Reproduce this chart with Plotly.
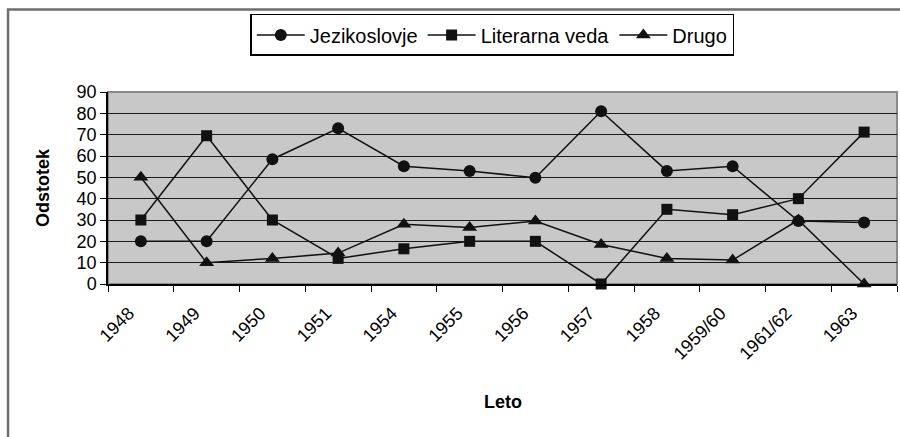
import plotly.graph_objects as go

categories = ["1948", "1949", "1950", "1951", "1954", "1955", "1956", "1957",
              "1958", "1959/60", "1961/62", "1963"]
jezikoslovje = [20, 20, 58.5, 73, 55.2, 53, 49.8, 81, 53, 55.2, 29.5, 28.8]
literarna_veda = [30, 69.5, 30, 12, 16.5, 20, 20, 0, 35, 32.5, 40, 71.2]
drugo = [50, 10, 12, 14.5, 28, 26.5, 29.5, 18.5, 12, 11.2, 30, 0]
y_ticks = [0, 10, 20, 30, 40, 50, 60, 70, 80, 90]

FONT = "Liberation Sans, Arial, sans-serif"
LINE = dict(color="#111111", width=1.5)

fig = go.Figure()
fig.add_trace(go.Scatter(x=categories, y=jezikoslovje, name="Jezikoslovje",
                         mode="lines+markers", line=LINE, cliponaxis=False,
                         marker=dict(symbol="circle", size=12, color="#111111")))
fig.add_trace(go.Scatter(x=categories, y=literarna_veda, name="Literarna veda",
                         mode="lines+markers", line=LINE, cliponaxis=False,
                         marker=dict(symbol="square", size=11, color="#111111")))
fig.add_trace(go.Scatter(x=categories, y=drugo, name="Drugo",
                         mode="lines+markers", line=LINE, cliponaxis=False,
                         marker=dict(symbol="triangle-up", size=13, color="#111111")))

fig.update_layout(
    width=900, height=437,
    margin=dict(l=108, r=3, t=92, b=153),
    paper_bgcolor="white",
    plot_bgcolor="#c8c8c8",
    font=dict(family=FONT, color="black", size=18),
    showlegend=True,
    legend=dict(orientation="h", xref="container", yref="container",
                x=0.547, xanchor="center", y=0.968, yanchor="top",
                bordercolor="black", borderwidth=1.5, bgcolor="white",
                font=dict(size=20, family=FONT), itemwidth=48,
                tracegroupgap=0),
    xaxis=dict(type="category", categoryorder="array", categoryarray=categories,
               range=[-0.5, len(categories) - 0.5], autorange=False,
               showgrid=False, showline=True, linecolor="black", linewidth=1.5,
               ticks="outside", tickson="boundaries", ticklen=6, tickcolor="black",
               tickangle=-45, ticklabelstandoff=10, ticklabelshift=-12,
               tickfont=dict(size=18, family=FONT), zeroline=False),
    yaxis=dict(range=[0, 90], autorange=False, tickvals=y_ticks, showgrid=True,
               gridcolor="#1a1a1a", gridwidth=1, showline=True, linecolor="black",
               linewidth=1.5, ticks="outside", ticklen=6, tickcolor="black",
               tickfont=dict(size=18, family=FONT), zeroline=False),
    shapes=[
        dict(type="rect", xref="paper", yref="paper", x0=-0.1267, x1=1.2,
             y0=-1.0, y1=1.43, line=dict(color="#6e6e6e", width=2.5), layer="below"),
        dict(type="rect", xref="paper", yref="paper", x0=0, x1=1, y0=0, y1=1,
             line=dict(color="#8a8a8a", width=2), layer="below"),
    ],
    annotations=[
        dict(text="<b>Odstotek</b>", xref="paper", yref="paper",
             x=(43 - 108) / 789, y=0.5, textangle=-90, showarrow=False,
             font=dict(size=18, family=FONT), xanchor="center", yanchor="middle"),
        dict(text="<b>Leto</b>", xref="paper", yref="paper",
             x=(503 - 108) / 789, y=(284 - 402) / 192, showarrow=False,
             font=dict(size=18, family=FONT), xanchor="center", yanchor="middle"),
    ],
)

fig.write_html("out.html", config={"displayModeBar": False},
               post_script="document.body.style.margin='0px';")
